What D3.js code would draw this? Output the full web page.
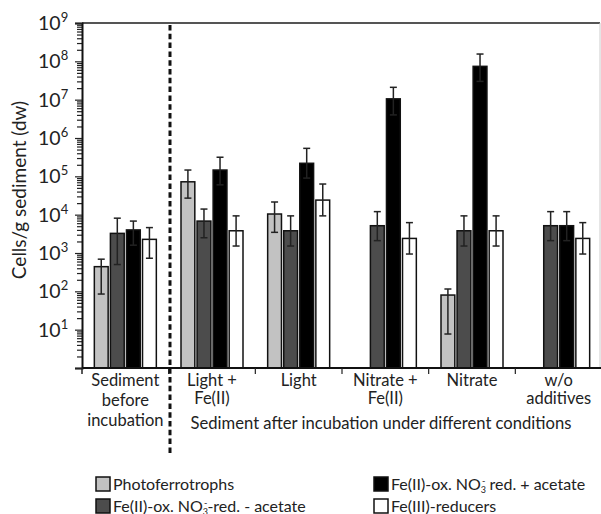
<!DOCTYPE html>
<html><head><meta charset="utf-8">
<script src="https://cdn.jsdelivr.net/npm/d3@7"></script>
<style>body{margin:0;background:#fff}svg{display:block}text{font-family:Lato,"Open Sans",sans-serif;fill:#222}</style>
</head><body><svg id="c" width="601" height="514"></svg>
<script>
const categories = ["Sediment before incubation","Light + Fe(II)","Light","Nitrate + Fe(II)","Nitrate","w/o additives"];
const categoryLines = [["Sediment","before","incubation"],["Light +","Fe(II)"],["Light"],["Nitrate +","Fe(II)"],["Nitrate"],["w/o","additives"]];
const seriesNames = ["Photoferrotrophs","Fe(II)-ox. NO3--red. - acetate","Fe(II)-ox. NO3- red. + acetate","Fe(III)-reducers"];
// values per category
const photo     = [440, 72000, 10400, null, 80, null];
const photoLo   = [85, 27000, 3460, null, 7.7, null];
const photoHi   = [690, 146000, 21400, null, 115, null];
const oxMinus   = [3250, 6800, 3800, 5150, 3800, 5150];
const oxMinusLo = [500, 2500, 1520, 2100, 1520, 2100];
const oxMinusHi = [8100, 14000, 9300, 12000, 9300, 12000];
const oxPlus    = [4000, 146000, 219000, 1.05e7, 7.4e7, 5150];
const oxPlusLo  = [1600, 60000, 90000, 4e6, 3e7, 2100];
const oxPlusHi  = [6800, 315000, 537000, 2.1e7, 1.55e8, 12000];
const fe3red    = [2270, 3800, 24000, 2400, 3800, 2400];
const fe3redLo  = [730, 1520, 9300, 940, 1520, 940];
const fe3redHi  = [4600, 9300, 63000, 6200, 9300, 6200];
const yTickExps = [1,2,3,4,5,6,7,8,9];

const series = [
  {key:"photo", v:photo, lo:photoLo, hi:photoHi, fill:"#c2c2c2"},
  {key:"oxMinus", v:oxMinus, lo:oxMinusLo, hi:oxMinusHi, fill:"#4c4c4c"},
  {key:"oxPlus", v:oxPlus, lo:oxPlusLo, hi:oxPlusHi, fill:"#000"},
  {key:"fe3", v:fe3red, lo:fe3redLo, hi:fe3redHi, fill:"#fff"}
];

const svg = d3.select("#c");
const L = 82, R = 602, T = 23, B = 368;
const y = d3.scaleLog().domain([1, 1e9]).range([B, T]);
const x0 = d3.scaleBand().domain(categories).range([L, R]);
const x1 = d3.scaleBand().domain(series.map(s=>s.key)).range([0, 62]).paddingInner(0.14);
const groupOff = (x0.bandwidth() - 62) / 2;

// frame top and right
svg.append("line").attr("x1",L).attr("x2",600).attr("y1",T).attr("y2",T).attr("stroke","#555").attr("stroke-width",2);
svg.append("line").attr("x1",600).attr("x2",600).attr("y1",T).attr("y2",B).attr("stroke","#ccc").attr("stroke-width",1);

// bars
const g = svg.append("g");
series.forEach(s => {
  categories.forEach((c, i) => {
    const v = s.v[i];
    if (v == null) return;
    const bx = x0(c) + groupOff + x1(s.key);
    g.append("rect").attr("x", bx).attr("y", y(v)).attr("width", x1.bandwidth()).attr("height", B - y(v))
      .attr("fill", s.fill).attr("stroke", "#111").attr("stroke-width", 1.5);
  });
});
// error bars
series.forEach(s => {
  categories.forEach((c, i) => {
    const v = s.v[i];
    if (v == null) return;
    const cx = x0(c) + groupOff + x1(s.key) + x1.bandwidth()/2;
    const eg = g.append("g").attr("stroke","#222").attr("stroke-width",1.5);
    eg.append("line").attr("x1",cx).attr("x2",cx).attr("y1",y(s.lo[i])).attr("y2",y(s.hi[i]));
    eg.append("line").attr("x1",cx-3.5).attr("x2",cx+3.5).attr("y1",y(s.hi[i])).attr("y2",y(s.hi[i]));
    eg.append("line").attr("x1",cx-3.5).attr("x2",cx+3.5).attr("y1",y(s.lo[i])).attr("y2",y(s.lo[i]));
  });
});

// y axis with minor ticks
const minor = [];
for (let e = 0; e < 9; e++) for (let k = 2; k <= 9; k++) minor.push(k * Math.pow(10, e));
const yAxisG = svg.append("g").attr("transform", `translate(${L},0)`);
yAxisG.call(d3.axisLeft(y).tickValues(minor).tickSize(5).tickFormat(""));
yAxisG.call(g2 => g2.selectAll(".domain").remove());
const yMaj = svg.append("g").attr("transform", `translate(${L},0)`)
  .call(d3.axisLeft(y).tickValues([1].concat(yTickExps.map(e=>Math.pow(10,e)))).tickSize(7).tickFormat(""));
svg.selectAll(".tick line").attr("stroke","#222").attr("stroke-width",1.2);
yMaj.select(".domain").attr("stroke","#111").attr("stroke-width",2);
yTickExps.forEach(e => {
  const t = svg.append("text").attr("x", 38).attr("y", y(Math.pow(10,e)) + 7).style("font-size","19.5px");
  t.append("tspan").text("10");
  t.append("tspan").attr("dy",-8).style("font-size","13px").text(e);
});

// x axis
svg.append("line").attr("x1",L).attr("x2",R).attr("y1",B).attr("y2",B).attr("stroke","#111").attr("stroke-width",2);
categories.forEach((c,i) => {
  if (i === 0) return;
  svg.append("line").attr("x1",x0(c)).attr("x2",x0(c)).attr("y1",B).attr("y2",B+6).attr("stroke","#222").attr("stroke-width",1.2);
});
svg.append("line").attr("x1",L).attr("x2",L).attr("y1",B).attr("y2",B+6).attr("stroke","#222").attr("stroke-width",1.5);

categories.forEach((c,i) => {
  const lines = categoryLines[i];
  const lh = lines.length === 3 ? 20 : 17.5;
  const cx = x0(c) + x0.bandwidth()/2;
  const t = svg.append("text").attr("x", cx).attr("y", 386).attr("text-anchor","middle").style("font-size","16.5px");
  lines.forEach((ln, j) => {
    t.append("tspan").attr("x", cx).attr("dy", j === 0 ? 0 : lh).text(ln);
  });
});
svg.append("text").attr("x", 381).attr("y", 429).attr("text-anchor","middle").style("font-size","16.6px")
  .text("Sediment after incubation under different conditions");

// dotted separator
svg.append("line").attr("x1",170).attr("x2",170).attr("y1",T+2).attr("y2",455)
  .attr("stroke","#111").attr("stroke-width",3).attr("stroke-dasharray","5.5,3.3");

// y title
svg.append("text").attr("transform","translate(26,190) rotate(-90)").attr("text-anchor","middle")
  .style("font-size","19px").text("Cells/g sediment (dw)");

// legend
const leg = [
  {i:0, x:96, y:484},
  {i:2, x:374, y:484},
  {i:1, x:96, y:506},
  {i:3, x:374, y:506}
];
leg.forEach(d => {
  const s = series[d.i];
  svg.append("rect").attr("x", d.x).attr("y", d.y - 7).attr("width", 14).attr("height", 14)
    .attr("fill", s.fill).attr("stroke", "#111").attr("stroke-width", 1.5);
  const t = svg.append("text").attr("x", d.x + 17).attr("y", d.y + 5.5).style("font-size","16px");
  if (d.i === 0 || d.i === 3) { t.text(seriesNames[d.i]); return; }
  t.append("tspan").text("Fe(II)-ox. NO");
  t.append("tspan").attr("dy",3).style("font-size","9px").text("3");
  t.append("tspan").attr("dy",-9).attr("dx",-4).style("font-size","9px").text("-");
  t.append("tspan").attr("dy",6).text(d.i === 2 ? " red. + acetate" : "-red. - acetate");
});
</script></body></html>
